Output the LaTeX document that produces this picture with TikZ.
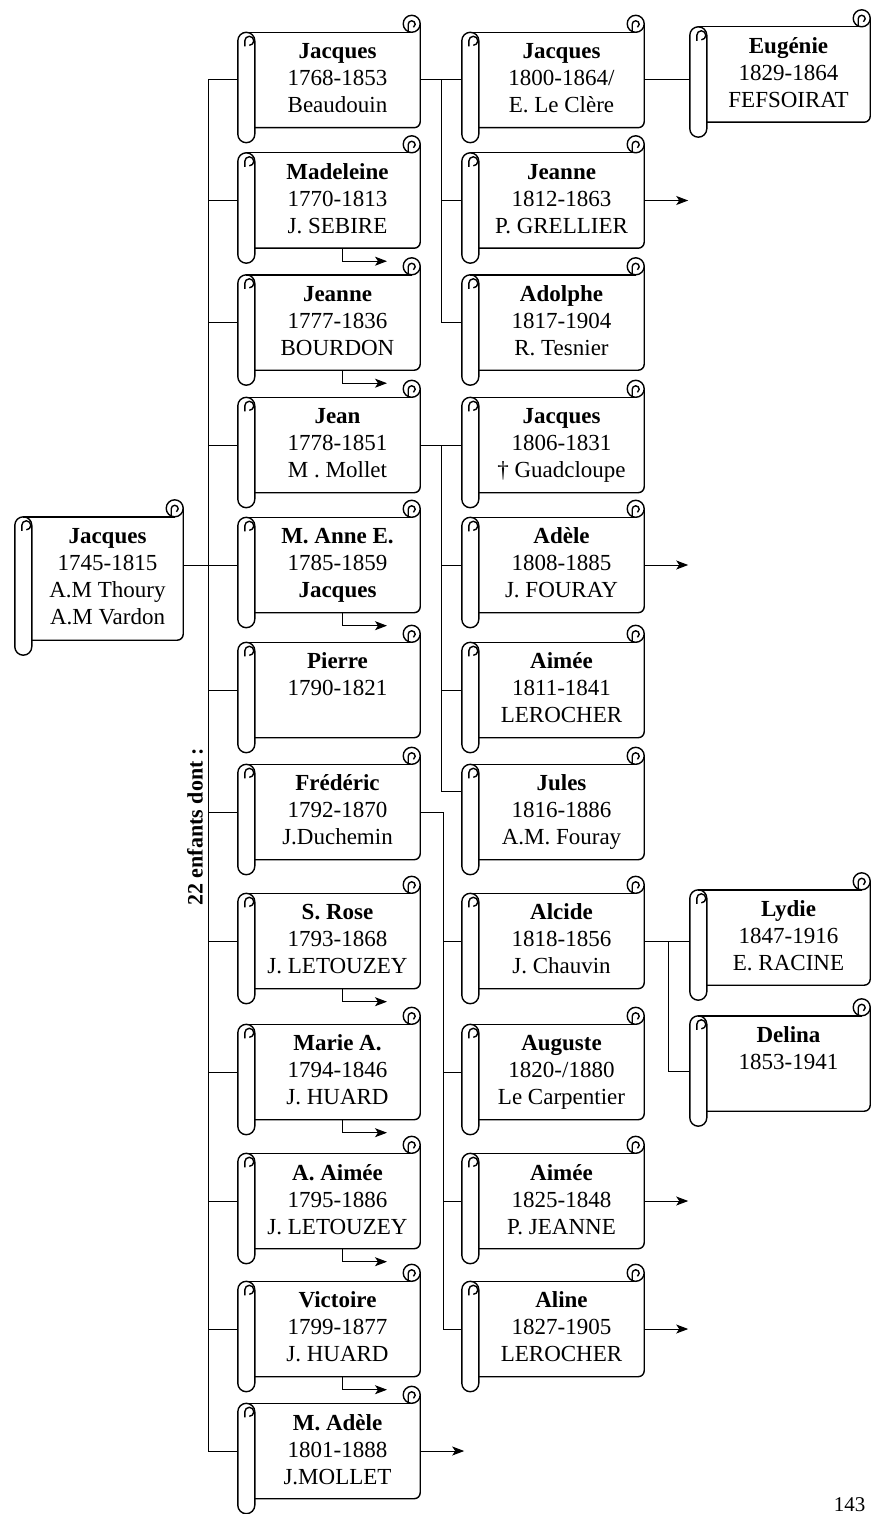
\documentclass[tikz,border=0pt]{standalone}
\usepackage{fontspec}
\setmainfont{Liberation Serif}
\usetikzlibrary{arrows.meta}
\begin{document}
\begin{tikzpicture}[x=1pt, y=1pt,
  box/.style={minimum width=165pt, minimum height=95pt, inner sep=0pt, align=center,
    font=\fontsize{23}{27}\selectfont,
    execute at begin node=\rule{0pt}{25pt}, execute at end node=\rule[-4pt]{0pt}{4pt}},
  rootbox/.style={box, minimum width=151pt, minimum height=123pt},
  scrollline/.style={line width=1.4pt, line join=round},
  link/.style={line width=1pt},
  arr/.style={link, -{Stealth[length=12pt,width=9pt,inset=3pt]}}
]
\useasboundingbox (0,0) rectangle (870,-1514);

% root
\node[rootbox] (root) at (107.5,-578.5) {\textbf{Jacques}\\1745-1815\\A.M Thoury\\A.M Vardon};
\node[rotate=90, font=\fontsize{22}{27}\selectfont\bfseries] (count) at (195,-827) {22 enfants dont :};

% children
\node[box] (c1) at (337.5,-80) {\textbf{Jacques}\\1768-1853\\Beaudouin};
\node[box] (c2) at (337.5,-200.5) {\textbf{Madeleine}\\1770-1813\\J. SEBIRE};
\node[box] (c3) at (337.5,-322.5) {\textbf{Jeanne}\\1777-1836\\BOURDON};
\node[box] (c4) at (337.5,-445) {\textbf{Jean}\\1778-1851\\M . Mollet};
\node[box] (c5) at (337.5,-565) {\textbf{M. Anne E.}\\1785-1859\\\textbf{Jacques}};
\node[box] (c6) at (337.5,-690) {\textbf{Pierre}\\1790-1821\\};
\node[box] (c7) at (337.5,-812) {\textbf{Frédéric}\\1792-1870\\J.Duchemin};
\node[box] (c8) at (337.5,-941) {\textbf{S. Rose}\\1793-1868\\J. LETOUZEY};
\node[box] (c9) at (337.5,-1072) {\textbf{Marie A.}\\1794-1846\\J. HUARD};
\node[box] (c10) at (337.5,-1201) {\textbf{A. Aimée}\\1795-1886\\J. LETOUZEY};
\node[box] (c11) at (337.5,-1329) {\textbf{Victoire}\\1799-1877\\J. HUARD};
\node[box] (c12) at (337.5,-1451) {\textbf{M. Adèle}\\1801-1888\\J.MOLLET};

% grandchildren
\node[box] (k1) at (561.5,-80) {\textbf{Jacques}\\1800-1864/\\E. Le Clère};
\node[box] (k2) at (561.5,-200.5) {\textbf{Jeanne}\\1812-1863\\P. GRELLIER};
\node[box] (k3) at (561.5,-322.5) {\textbf{Adolphe}\\1817-1904\\R. Tesnier};
\node[box] (k4) at (561.5,-445) {\textbf{Jacques}\\1806-1831\\† Guadcloupe};
\node[box] (k5) at (561.5,-565) {\textbf{Adèle}\\1808-1885\\J. FOURAY};
\node[box] (k6) at (561.5,-690) {\textbf{Aimée}\\1811-1841\\LEROCHER};
\node[box] (k7) at (561.5,-812) {\textbf{Jules}\\1816-1886\\A.M. Fouray};
\node[box] (k8) at (561.5,-941) {\textbf{Alcide}\\1818-1856\\J. Chauvin};
\node[box] (k9) at (561.5,-1072) {\textbf{Auguste}\\1820-/1880\\Le Carpentier};
\node[box] (k10) at (561.5,-1201) {\textbf{Aimée}\\1825-1848\\P. JEANNE};
\node[box] (k11) at (561.5,-1329) {\textbf{Aline}\\1827-1905\\LEROCHER};

% great-grandchildren
\node[box, minimum width=163pt] (g1) at (788.5,-74.5) {\textbf{Eugénie}\\1829-1864\\FEFSOIRAT};
\node[box, minimum width=163pt] (g2) at (788.5,-937.5) {\textbf{Lydie}\\1847-1916\\E. RACINE};
\node[box, minimum width=163pt] (g3) at (788.5,-1063.5) {\textbf{Delina}\\1853-1941\\};

\node[anchor=base east, font=\fontsize{21}{21}\selectfont] (page) at (869,-1511) {143};

% spine
\draw[link] (c1.west) -- ++(-46,0) |- (c12.west);
\foreach \i in {2,...,11} \draw[link] (c\i.west) -- ++(-46,0);
\draw[link] (root.east |- c5.west) -- (c5.west);

% Jacques 1768
\draw[link] (c1.east) -- (k1.west);
\draw[link] (c1.east) -- ++(21,0) |- (k2.west);
\draw[link] (c1.east) -- ++(21,0) |- (k3.west);
\draw[link] (k1.east) -- (k1.east -| g1.west);
% Jean
\draw[link] (c4.east) -- (k4.west);
\draw[link] (c4.east) -- ++(21,0) |- (k5.west);
\draw[link] (c4.east) -- ++(21,0) |- (k6.west);
\draw[link] (c4.east) -- ++(21,0) |- ([yshift=21pt]k7.west);
% Frédéric
\foreach \k in {k8,k9,k10,k11} \draw[link] (c7.east) -- ++(23,0) |- (\k.west);
\draw[link] (k8.east) -- (k8.east -| g2.west);
\draw[link] (k8.east) -- ++(24,0) |- ([yshift=-8pt]g3.west);

% continued elsewhere
\foreach \c in {c2,c3,c5,c8,c9,c10,c11} \draw[arr] ([xshift=4.5pt]\c.south) -- ++(0,-13) -- ++(45,0);
\foreach \c in {k2,k5,k10,k11,c12} \draw[arr] (\c.east) -- ++(44,0);

% scrolls
\foreach \n in {root,c1,c2,c3,c4,c5,c6,c7,c8,c9,c10,c11,c12,k1,k2,k3,k4,k5,k6,k7,k8,k9,k10,k11,g1,g2,g3} {
  \draw[scrollline, fill=white] ([yshift=-8.5pt]\n.north west)
    arc[start angle=0, end angle=180, radius=8.5pt]
    -- ([xshift=-17pt, yshift=-6.5pt]\n.south west)
    arc[start angle=180, end angle=360, radius=8.5pt] -- cycle;
  \draw[scrollline] ([xshift=-10pt, yshift=-14pt]\n.north west) -- ++(0,5.5)
    arc[start angle=180, end angle=-90, radius=4.5pt];
  \draw[scrollline] ([xshift=-8.5pt]\n.north west) -- ([xshift=-8.5pt]\n.north east);
  \draw[scrollline, rounded corners=6pt] ([yshift=8.5pt]\n.north east) -- (\n.south east) -- (\n.south west);
  \draw[scrollline, fill=white] ([xshift=-8.5pt, yshift=8.5pt]\n.north east) circle[radius=8.5pt];
  \draw[scrollline] ([xshift=-12pt]\n.north east) -- ++(0,8)
    arc[start angle=180, end angle=-60, radius=3.5pt];
}
\end{tikzpicture}
\end{document}
